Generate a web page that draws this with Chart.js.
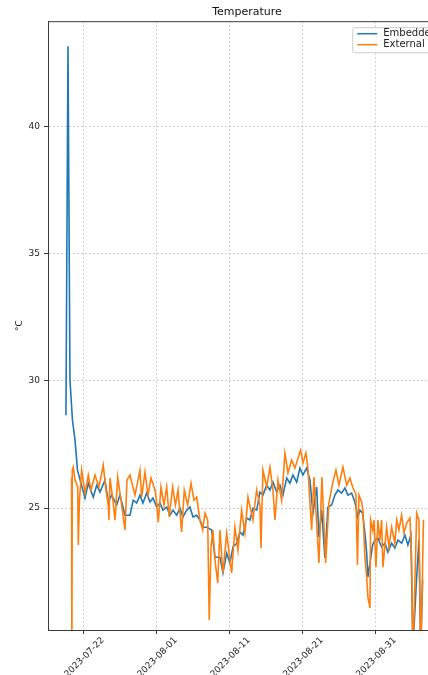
<!DOCTYPE html>
<html>
<head>
<meta charset="utf-8">
<script src="https://cdn.jsdelivr.net/npm/chart.js@4"></script>
<style>
    html, body { margin: 0; padding: 0; background: #fff; overflow: hidden; }
    #wrap { width: 452px; height: 675px; position: relative; }
</style>
</head>
<body>
<div id="wrap"><canvas id="tempChart"></canvas></div>
<script>
// x values are days counted from 2023-07-22 00:00
const embeddedDays = [-2.47, -2.19, -1.92, -1.58, -1.23, -0.89, 0.14, 0.59, 1.27, 1.74,
    2.19, 2.88, 3.33, 3.79, 4.48, 4.93, 5.62, 6.30, 6.75, 7.22,
    7.67, 8.08, 8.59, 9.04, 9.45, 9.96, 10.41, 10.82, 11.33, 11.78,
    12.19, 12.70, 13.15, 13.56, 14.07, 14.52, 14.93, 15.44, 15.89, 16.30,
    16.81, 17.49, 17.95, 18.63, 19.04, 19.55, 20.00, 20.41, 20.92, 21.37,
    21.78, 22.29, 22.74, 23.15, 23.66, 24.11, 24.52, 25.03, 25.48, 25.89,
    26.40, 26.85, 27.26, 27.77, 28.22, 28.63, 29.14, 29.59, 30.00, 30.51,
    30.96, 31.37, 31.88, 32.19, 32.56, 33.01, 33.42, 33.93, 34.38, 34.79,
    35.30, 35.75, 36.16, 36.67, 37.12, 37.53, 37.81, 38.18, 38.49, 38.73,
    38.90, 39.18, 39.55, 39.86, 40.27, 40.78, 41.23, 41.64, 42.15, 42.60,
    43.01, 43.52, 43.97, 44.38, 44.79, 45.07, 45.58, 45.89, 46.12, 46.40];
const embeddedTemp = [28.65, 43.15, 30.03, 28.46, 27.67, 26.49, 25.39, 25.98, 25.43, 25.90,
    25.63, 26.10, 25.24, 25.51, 25.12, 25.51, 24.72, 24.72, 25.31, 25.20,
    25.51, 25.20, 25.59, 25.24, 25.39, 25.04, 25.20, 24.92, 25.04, 24.72,
    24.92, 24.72, 25.00, 24.65, 24.92, 25.04, 24.65, 24.72, 24.53, 24.25,
    24.25, 24.14, 23.07, 23.07, 22.45, 23.23, 22.84, 23.47, 23.62, 24.06,
    23.94, 24.61, 24.53, 25.00, 24.92, 25.63, 25.51, 25.90, 25.71, 26.02,
    25.63, 25.90, 25.51, 26.18, 25.98, 26.30, 26.02, 26.57, 26.30, 26.57,
    26.10, 24.80, 25.83, 23.86, 24.92, 23.04, 25.04, 25.12, 25.51, 25.71,
    25.59, 25.79, 25.51, 25.59, 25.24, 24.65, 24.92, 24.80, 24.02, 23.23,
    22.29, 22.84, 23.55, 23.74, 23.82, 23.47, 23.62, 23.27, 23.62, 23.43,
    23.74, 23.62, 23.94, 23.55, 23.94, 19.50, 22.29, 23.74, 19.50, 22.17];

const externalDays = [-1.70, -1.66, -1.60, -1.47, -1.23, -0.86, -0.78, -0.62, -0.32, 0.14,
    0.59, 0.96, 1.51, 2.05, 2.64, 3.01, 3.33, 3.42, 3.56, 3.97,
    4.25, 4.62, 5.07, 5.62, 5.89, 6.30, 6.99, 7.67, 7.90, 8.36,
    8.77, 9.18, 9.73, 9.96, 10.18, 10.55, 10.96, 11.33, 11.68, 12.15,
    12.53, 12.88, 13.38, 13.74, 14.21, 14.66, 15.07, 15.44, 15.89, 16.26,
    16.58, 16.95, 17.16, 17.40, 17.67, 17.95, 18.32, 18.63, 19.04, 19.55,
    20.00, 20.23, 20.68, 21.10, 21.60, 22.05, 22.47, 23.15, 23.66, 24.11,
    24.25, 24.52, 25.03, 25.48, 25.89, 26.16, 26.58, 27.08, 27.53, 27.95,
    28.45, 28.90, 29.32, 29.68, 30.00, 30.41, 30.68, 31.19, 31.51, 32.19,
    32.60, 33.11, 33.56, 34.07, 34.52, 34.93, 35.48, 35.99, 36.44, 36.85,
    37.26, 37.47, 37.67, 38.04, 38.22, 38.49, 38.73, 38.90, 39.18, 39.27,
    39.55, 39.73, 40.00, 40.27, 40.55, 40.78, 40.96, 41.47, 41.78, 42.15,
    42.60, 42.84, 43.15, 43.52, 43.84, 44.21, 44.66, 44.89, 45.07, 45.58,
    45.89, 46.16, 46.51];
const externalTemp = [26.20, 19.00, 26.49, 26.61, 26.10, 25.83, 23.55, 25.31, 26.49, 25.59,
    26.30, 25.71, 26.30, 25.83, 26.69, 25.71, 25.12, 24.53, 26.18, 25.31,
    24.53, 26.22, 25.31, 24.14, 26.10, 26.30, 25.51, 26.49, 25.43, 26.41,
    25.51, 26.18, 25.71, 25.20, 24.45, 25.83, 25.12, 25.83, 24.65, 25.83,
    25.12, 25.71, 24.06, 25.71, 25.12, 25.98, 25.31, 25.43, 24.53, 24.14,
    24.80, 24.53, 20.60, 23.47, 24.14, 22.96, 22.05, 24.14, 22.45, 24.02,
    22.96, 22.45, 24.25, 23.35, 24.92, 24.02, 25.43, 24.53, 25.71, 25.12,
    23.43, 26.49, 25.83, 26.61, 25.71, 24.53, 26.10, 25.31, 27.16, 26.38,
    26.89, 26.57, 26.96, 27.28, 26.77, 27.16, 26.57, 24.14, 26.22, 22.84,
    26.22, 22.84, 25.20, 25.98, 26.49, 25.90, 26.61, 25.90, 26.18, 25.79,
    25.55, 22.76, 25.51, 25.24, 24.92, 23.07, 22.29, 21.50, 21.07, 24.53,
    24.14, 24.53, 22.68, 24.53, 23.74, 24.53, 22.68, 24.25, 23.47, 24.25,
    23.62, 24.53, 24.14, 24.72, 24.02, 24.41, 24.61, 22.96, 19.00, 24.80,
    24.53, 19.00, 24.53];

const xTickDays = [0, 10, 20, 30, 40];
const xTickLabels = ['2023-07-22', '2023-08-01', '2023-08-11', '2023-08-21', '2023-08-31'];
const yTickValues = [25, 30, 35, 40];

const toPoints = (xs, ys) => xs.map((x, i) => ({ x: x, y: ys[i] }));

const FONT = '"DejaVu Sans", sans-serif';
const SPINE = '#3a3a3a';
const GRID = 'rgba(176,176,176,0.6)';

// legend box in the upper right corner of the plot, plus the top spine
const frameAndLegend = {
    id: 'frameAndLegend',
    afterDatasetsDraw(chart) {
        const ctx = chart.ctx;
        const area = chart.chartArea;
        ctx.save();
        ctx.strokeStyle = SPINE;
        ctx.lineWidth = 1;
        ctx.beginPath();
        ctx.moveTo(area.left, area.top + 0.5);
        ctx.lineTo(area.right, area.top + 0.5);
        ctx.stroke();

        ctx.font = '10px ' + FONT;
        const sets = chart.data.datasets;
        const textW = Math.max(...sets.map(d => ctx.measureText(d.label).width));
        const w = 5 + 20 + 6 + textW + 5;
        const h = 25;
        const right = area.right - 4;
        const left = right - w;
        const top = area.top + 6;

        ctx.fillStyle = 'rgba(255,255,255,0.85)';
        ctx.strokeStyle = '#cccccc';
        ctx.beginPath();
        ctx.roundRect(left + 0.5, top + 0.5, w, h, 2);
        ctx.fill();
        ctx.stroke();

        ctx.textBaseline = 'middle';
        ctx.textAlign = 'left';
        sets.forEach((d, i) => {
            const y = top + 6.5 + i * 11;
            ctx.strokeStyle = d.borderColor;
            ctx.lineWidth = 1.5;
            ctx.beginPath();
            ctx.moveTo(left + 5, y);
            ctx.lineTo(left + 25, y);
            ctx.stroke();
            ctx.fillStyle = '#222';
            ctx.fillText(d.label, left + 31, y);
        });
        ctx.restore();
    }
};

const gridOpts = {
    color: GRID,
    tickBorderDash: [],
    tickColor: SPINE,
    tickLength: 4,
    drawTicks: true
};

new Chart(document.getElementById('tempChart'), {
    type: 'line',
    data: {
        datasets: [
            {
                label: 'Embedded',
                data: toPoints(embeddedDays, embeddedTemp),
                borderColor: '#1f77b4',
                borderWidth: 1.6,
                pointRadius: 0,
                tension: 0,
                clip: 0,
                order: 1
            },
            {
                label: 'External',
                data: toPoints(externalDays, externalTemp),
                borderColor: '#ff7f0e',
                borderWidth: 1.6,
                pointRadius: 0,
                tension: 0,
                clip: 0,
                order: 0
            }
        ]
    },
    options: {
        responsive: true,
        maintainAspectRatio: false,
        animation: false,
        layout: { padding: { left: 0, right: 6, top: 0, bottom: 0 } },
        plugins: {
            legend: { display: false },
            tooltip: { enabled: false },
            title: {
                display: true,
                text: 'Temperature',
                fullSize: false,
                color: '#111',
                font: { family: FONT, size: 11, weight: 'normal' },
                padding: { top: 6, bottom: 2 }
            }
        },
        scales: {
            x: {
                type: 'linear',
                min: -4.93,
                max: 49.6,
                afterBuildTicks: scale => { scale.ticks = xTickDays.map(v => ({ value: v })); },
                afterFit: scale => { scale.height = 45; },
                ticks: {
                    autoSkip: false,
                    maxRotation: 45,
                    minRotation: 45,
                    labelOffset: 19,
                    padding: 1,
                    color: '#222',
                    font: { family: FONT, size: 9 },
                    callback: (value) => xTickLabels[xTickDays.indexOf(value)]
                },
                grid: gridOpts,
                border: { display: true, color: SPINE, width: 1, dash: [2, 2] }
            },
            y: {
                type: 'linear',
                min: 20.21,
                max: 44.13,
                afterBuildTicks: scale => { scale.ticks = yTickValues.map(v => ({ value: v })); },
                afterFit: scale => { scale.width = 48; },
                ticks: {
                    padding: 4,
                    color: '#222',
                    font: { family: FONT, size: 9 }
                },
                grid: gridOpts,
                border: { display: true, color: SPINE, width: 1, dash: [2, 2] },
                title: {
                    display: true,
                    text: '°C',
                    color: '#222',
                    font: { family: FONT, size: 9 },
                    padding: { top: 14, bottom: 0 }
                }
            }
        }
    },
    plugins: [frameAndLegend]
});
</script>
</body>
</html>
